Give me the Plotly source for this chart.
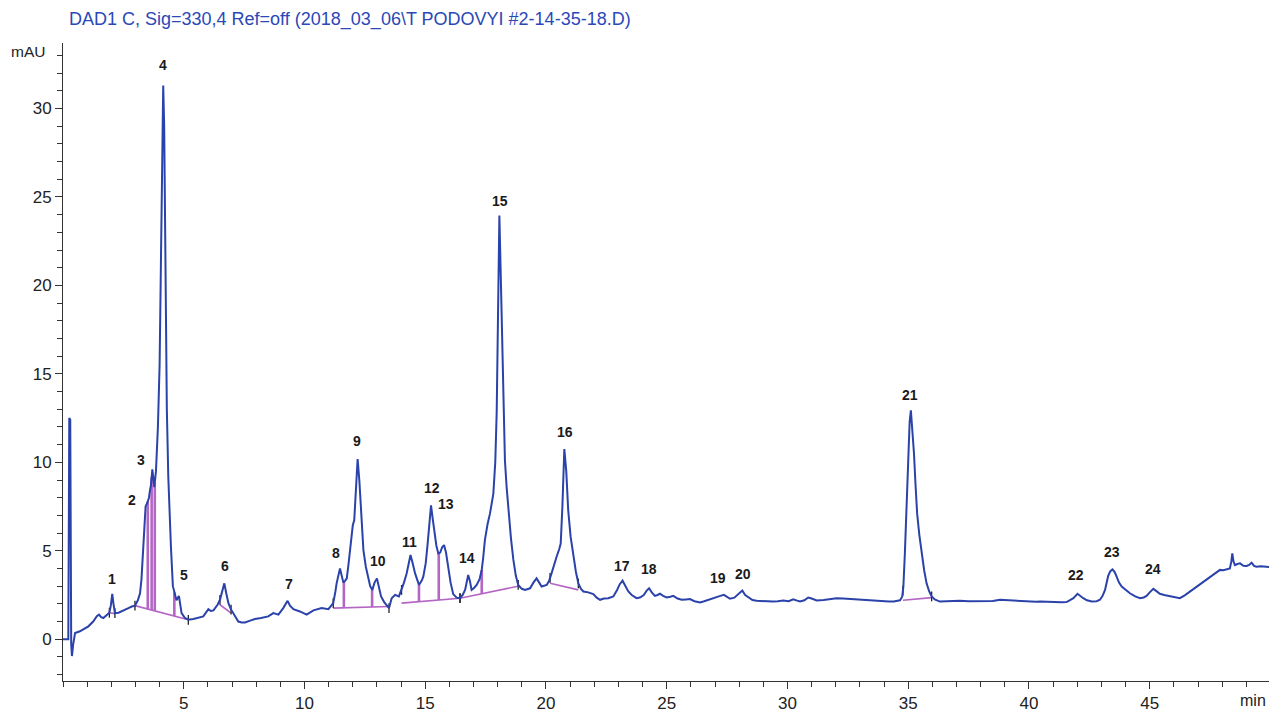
import numpy as np
import plotly.graph_objects as go

# ---------------- data ----------------
time_min = [
    0.00, 0.22, 0.26, 0.30, 0.34, 0.37, 0.42, 0.50, 0.70, 0.90, 1.05, 1.25, 1.40, 1.49, 1.58, 1.67,
    1.80, 1.92, 1.98, 2.04, 2.09, 2.15, 2.30, 2.43, 2.60, 2.71, 2.85, 2.98, 3.10, 3.19, 3.25, 3.29,
    3.33, 3.37, 3.42, 3.50, 3.56, 3.60, 3.64, 3.70, 3.74, 3.78, 3.85, 3.93, 4.00, 4.05, 4.10, 4.15,
    4.19, 4.24, 4.30, 4.36, 4.41, 4.47, 4.55, 4.62, 4.70, 4.80, 4.85, 4.91, 5.05, 5.19, 5.40, 5.60,
    5.81, 6.02, 6.12, 6.23, 6.40, 6.50, 6.60, 6.68, 6.76, 6.85, 6.95, 7.05, 7.15, 7.26, 7.40, 7.54,
    7.75, 7.95, 8.20, 8.50, 8.71, 8.92, 9.12, 9.30, 9.40, 9.54, 9.81, 10.09, 10.37, 10.55, 10.71, 10.99,
    11.19, 11.28, 11.33, 11.47, 11.55, 11.61, 11.68, 11.75, 11.82, 11.88, 11.95, 12.00, 12.06, 12.13, 12.20, 12.27,
    12.34, 12.44, 12.54, 12.64, 12.72, 12.81, 12.90, 13.00, 13.08, 13.17, 13.30, 13.40, 13.50, 13.61, 13.75, 13.91,
    14.02, 14.12, 14.23, 14.39, 14.48, 14.58, 14.74, 14.85, 14.92, 15.02, 15.10, 15.17, 15.24, 15.31, 15.38, 15.46,
    15.54, 15.62, 15.70, 15.78, 15.86, 15.95, 16.05, 16.16, 16.30, 16.44, 16.55, 16.65, 16.78, 16.85, 16.92, 17.02,
    17.13, 17.25, 17.34, 17.40, 17.47, 17.58, 17.68, 17.82, 17.90, 17.96, 18.02, 18.07, 18.12, 18.18, 18.24, 18.30,
    18.37, 18.44, 18.55, 18.65, 18.75, 18.85, 19.00, 19.13, 19.34, 19.48, 19.61, 19.72, 19.82, 20.03, 20.13, 20.23,
    20.35, 20.44, 20.55, 20.61, 20.68, 20.76, 20.84, 20.92, 21.02, 21.13, 21.24, 21.34, 21.45, 21.55, 21.75, 21.96,
    22.10, 22.24, 22.40, 22.58, 22.79, 22.95, 23.05, 23.17, 23.30, 23.41, 23.55, 23.75, 23.89, 24.05, 24.17, 24.27,
    24.38, 24.51, 24.62, 24.72, 24.85, 25.00, 25.15, 25.27, 25.45, 25.62, 25.80, 25.96, 26.15, 26.38, 26.55, 26.72,
    26.90, 27.07, 27.22, 27.37, 27.50, 27.62, 27.80, 27.95, 28.05, 28.13, 28.25, 28.38, 28.55, 28.72, 29.00, 29.20,
    29.41, 29.60, 29.83, 30.05, 30.24, 30.40, 30.52, 30.70, 30.86, 31.00, 31.21, 31.50, 31.80, 32.03, 32.30, 32.50,
    32.73, 33.00, 33.30, 33.55, 33.90, 34.20, 34.40, 34.66, 34.75, 34.80, 34.86, 34.91, 35.00, 35.06, 35.11, 35.17,
    35.24, 35.30, 35.37, 35.46, 35.56, 35.66, 35.76, 35.87, 35.97, 36.10, 36.31, 36.60, 36.90, 37.14, 37.50, 37.80,
    38.10, 38.25, 38.50, 38.80, 39.10, 39.40, 39.63, 40.00, 40.30, 40.46, 40.80, 41.10, 41.35, 41.56, 41.72, 41.84,
    42.01, 42.12, 42.25, 42.40, 42.60, 42.80, 42.94, 43.05, 43.15, 43.28, 43.37, 43.46, 43.55, 43.63, 43.73, 43.84,
    44.00, 44.18, 44.40, 44.60, 44.75, 44.87, 45.00, 45.15, 45.28, 45.42, 45.60, 45.84, 46.05, 46.25, 46.45, 46.67,
    46.95, 47.22, 47.45, 47.63, 47.80, 47.91, 48.05, 48.19, 48.32, 48.38, 48.42, 48.47, 48.53, 48.63, 48.74, 48.88,
    49.01, 49.12, 49.22, 49.32, 49.42, 49.60, 49.84, 49.95,
]
signal_mau = [
    0.00, 0.00, 12.50, 12.40, -0.30, -0.95, -0.30, 0.35, 0.45, 0.62, 0.73, 1.00, 1.30, 1.39, 1.25, 1.20,
    1.35, 1.50, 1.90, 2.57, 2.00, 1.48, 1.50, 1.57, 1.70, 1.76, 1.85, 1.90, 2.20, 2.60, 3.40, 4.30,
    5.50, 6.50, 7.50, 7.75, 8.00, 8.40, 8.70, 9.60, 9.00, 8.60, 9.50, 12.00, 15.50, 21.00, 28.00, 31.30,
    29.00, 21.00, 13.00, 9.20, 7.00, 5.20, 3.00, 2.60, 2.20, 2.45, 2.00, 1.48, 1.20, 1.10, 1.15, 1.20,
    1.29, 1.70, 1.60, 1.63, 1.95, 2.23, 2.70, 3.16, 2.60, 2.04, 1.70, 1.48, 1.20, 1.00, 0.95, 0.95,
    1.05, 1.14, 1.20, 1.29, 1.48, 1.39, 1.76, 2.17, 1.90, 1.70, 1.57, 1.39, 1.63, 1.70, 1.76, 1.70,
    2.04, 2.70, 3.16, 4.00, 3.60, 3.20, 3.30, 3.44, 4.20, 4.85, 5.80, 6.44, 6.72, 8.50, 10.19, 9.00,
    7.28, 5.04, 4.10, 3.54, 3.00, 2.79, 3.20, 3.44, 2.90, 2.42, 2.10, 1.95, 1.76, 2.32, 2.51, 2.42,
    2.79, 3.20, 3.72, 4.76, 4.30, 3.72, 3.07, 3.30, 3.54, 4.30, 5.41, 6.60, 7.57, 6.80, 5.97, 5.30,
    4.85, 4.90, 5.20, 5.32, 4.90, 4.10, 3.20, 2.55, 2.35, 2.32, 2.50, 2.79, 3.63, 3.30, 2.79, 2.90,
    3.07, 3.40, 3.92, 4.60, 5.60, 6.50, 7.10, 8.22, 10.00, 12.90, 19.00, 23.95, 21.00, 16.65, 13.00, 10.10,
    8.60, 7.29, 5.70, 4.48, 3.60, 3.07, 2.85, 2.79, 2.88, 3.20, 3.44, 3.20, 2.98, 3.07, 3.30, 3.72,
    4.30, 4.66, 5.10, 5.41, 7.50, 10.75, 9.50, 7.29, 5.80, 4.66, 3.80, 3.16, 2.85, 2.70, 2.65, 2.55,
    2.35, 2.23, 2.30, 2.32, 2.42, 2.80, 3.10, 3.31, 3.00, 2.70, 2.50, 2.32, 2.36, 2.50, 2.75, 2.88,
    2.65, 2.45, 2.50, 2.57, 2.45, 2.36, 2.40, 2.45, 2.30, 2.23, 2.25, 2.27, 2.15, 2.08, 2.15, 2.23,
    2.30, 2.42, 2.45, 2.51, 2.38, 2.29, 2.35, 2.55, 2.70, 2.75, 2.50, 2.36, 2.22, 2.17, 2.15, 2.14,
    2.13, 2.15, 2.19, 2.15, 2.26, 2.18, 2.13, 2.20, 2.36, 2.30, 2.19, 2.22, 2.28, 2.32, 2.30, 2.28,
    2.26, 2.24, 2.20, 2.17, 2.15, 2.13, 2.14, 2.20, 2.40, 2.98, 4.80, 6.72, 10.47, 12.30, 12.94, 12.00,
    10.47, 8.80, 7.10, 5.90, 4.85, 3.90, 3.16, 2.70, 2.42, 2.25, 2.13, 2.15, 2.18, 2.17, 2.15, 2.15,
    2.12, 2.13, 2.16, 2.23, 2.20, 2.18, 2.17, 2.15, 2.12, 2.13, 2.10, 2.08, 2.09, 2.10, 2.20, 2.32,
    2.57, 2.45, 2.32, 2.20, 2.13, 2.15, 2.23, 2.45, 2.79, 3.58, 3.85, 3.95, 3.80, 3.54, 3.20, 2.98,
    2.80, 2.60, 2.42, 2.32, 2.36, 2.45, 2.65, 2.85, 2.72, 2.57, 2.50, 2.42, 2.35, 2.32, 2.48, 2.70,
    3.00, 3.26, 3.45, 3.63, 3.80, 3.92, 3.90, 3.97, 4.00, 4.40, 4.85, 4.40, 4.19, 4.25, 4.29, 4.15,
    4.14, 4.20, 4.33, 4.15, 4.10, 4.12, 4.10, 4.08,
]

# peak numbers and where their labels sit (time, mAU)
peak_labels = [str(i) for i in range(1, 25)]
label_time = [2.03, 2.86, 3.23, 4.14, 5.01, 6.71, 9.36, 11.30, 12.17, 13.04, 14.33, 15.28,
              15.86, 16.73, 18.10, 20.79, 23.15, 24.27, 27.12, 28.16, 35.07, 41.95, 43.44, 45.13]
label_mau = [3.43, 7.87, 10.11, 32.47, 3.65, 4.16, 3.15, 4.89, 11.18, 4.44, 5.51, 8.54,
             7.64, 4.61, 24.78, 11.69, 4.16, 3.99, 3.48, 3.71, 13.82, 3.65, 4.94, 3.99]

# integration baselines: start (time, mAU) -> end (time, mAU)
base_t0 = [1.92, 2.98, 6.50, 11.19, 14.02, 16.44, 20.17, 34.78]
base_v0 = [1.50, 1.90, 1.95, 1.76, 2.04, 2.32, 3.16, 2.20]
base_t1 = [2.15, 5.19, 6.96, 13.50, 16.44, 18.85, 21.34, 35.97]
base_v1 = [1.45, 1.10, 1.48, 1.85, 2.32, 3.00, 2.79, 2.35]

# drop lines (peak split times, min)
drop_time = [3.51, 3.67, 3.80, 4.61, 11.63, 12.80, 14.74, 15.56, 17.34]

# ---------------- figure ----------------
BLUE = "#2a42aa"
PURPLE = "#b466c4"
AXIS = "#333333"
FONT = "Liberation Sans, Arial, sans-serif"

fig = go.Figure()

# baseline segments
bx, by = [], []
for a, b, c, d in zip(base_t0, base_v0, base_t1, base_v1):
    bx += [a, c, None]
    by += [b, d, None]
fig.add_trace(go.Scatter(x=bx, y=by, mode="lines",
                         line=dict(color=PURPLE, width=1.6), hoverinfo="skip"))

# drop lines from baseline up to the signal
t_arr = np.array(time_min)
v_arr = np.array(signal_mau)
dx, dy = [], []
for t in drop_time:
    low = None
    for a, b, c, d in zip(base_t0, base_v0, base_t1, base_v1):
        if a <= t <= c:
            low = b + (d - b) * (t - a) / (c - a)
            break
    top = float(np.interp(t, t_arr, v_arr))
    dx += [t, t, None]
    dy += [low, top, None]
fig.add_trace(go.Scatter(x=dx, y=dy, mode="lines",
                         line=dict(color=PURPLE, width=2.6), hoverinfo="skip"))

# integration start/end tick marks
mk_t = base_t0 + base_t1
mk_v = [float(np.interp(t, t_arr, v_arr)) for t in mk_t]
fig.add_trace(go.Scatter(x=mk_t, y=mk_v, mode="markers",
                         marker=dict(symbol="line-ns", size=7,
                                     line=dict(color="#222222", width=1.3)),
                         hoverinfo="skip"))

# the chromatogram
fig.add_trace(go.Scatter(x=time_min, y=signal_mau, mode="lines",
                         line=dict(color=BLUE, width=2.0), hoverinfo="skip"))

for lab, t, v in zip(peak_labels, label_time, label_mau):
    fig.add_annotation(x=t, y=v, text="<b>%s</b>" % lab, showarrow=False,
                       font=dict(size=14, color="#1a1a1a", family=FONT))

fig.add_annotation(xref="paper", yref="paper", x=0.003, y=1.037,
                   xanchor="left", yanchor="middle", showarrow=False,
                   text="DAD1 C, Sig=330,4 Ref=off (2018_03_06\\T PODOVYI #2-14-35-18.D)",
                   font=dict(size=18, color="#2a48b8", family=FONT))
fig.add_annotation(xref="paper", yref="y", x=-0.013, y=33.2, xanchor="right",
                   yanchor="middle", showarrow=False, text="mAU",
                   font=dict(size=15.5, color="#222222", family=FONT))
fig.add_annotation(xref="paper", yref="paper", x=0.9995, y=-0.03, xanchor="right",
                   yanchor="middle", showarrow=False, text="min",
                   font=dict(size=16, color="#222222", family=FONT))

fig.update_layout(
    width=1269, height=713,
    margin=dict(l=63, r=0, t=43, b=28),
    paper_bgcolor="white", plot_bgcolor="white",
    showlegend=False,
    font=dict(family=FONT, size=17, color="#222222"),
)
fig.update_xaxes(
    range=[0, 49.94], showgrid=False, zeroline=False,
    showline=True, linecolor=AXIS, linewidth=1,
    tickmode="array", tickvals=[5, 10, 15, 20, 25, 30, 35, 40, 45],
    ticks="outside", ticklen=7, tickcolor=AXIS, tickwidth=1,
    minor=dict(ticks="outside", ticklen=5, tickcolor=AXIS, dtick=1, tick0=0, showgrid=False),
    tickfont=dict(size=17, color="#222222"),
)
fig.update_yaxes(
    range=[-2.36, 33.7], showgrid=False, zeroline=False,
    showline=True, linecolor=AXIS, linewidth=1,
    tickmode="array", tickvals=[0, 5, 10, 15, 20, 25, 30],
    ticks="outside", ticklen=7, tickcolor=AXIS, tickwidth=1,
    minor=dict(ticks="outside", ticklen=5, tickcolor=AXIS, dtick=1, tick0=0, showgrid=False),
    tickfont=dict(size=17, color="#222222"),
)

fig.write_html(
    "out.html",
    config={"displayModeBar": False},
    post_script="document.body.style.margin='0';document.body.style.overflow='hidden';",
)
